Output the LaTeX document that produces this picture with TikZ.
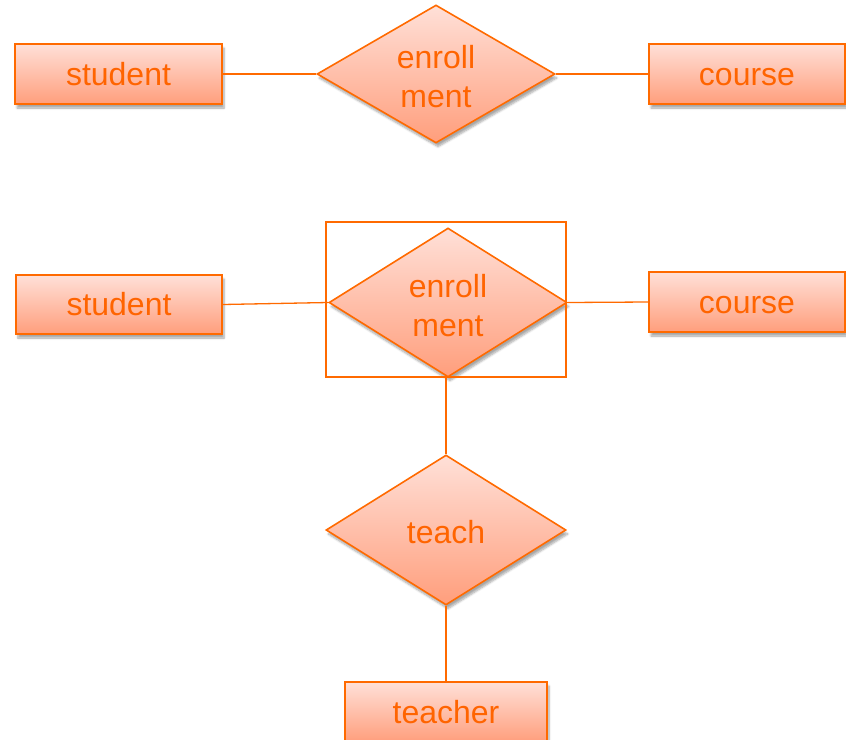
\documentclass[tikz,border=0pt]{standalone}
\usepackage{fontspec}
\setmainfont{Liberation Sans}
\usetikzlibrary{shapes.geometric,shadows.blur}
\definecolor{erline}{RGB}{255,106,0}
\definecolor{ertext}{RGB}{255,100,0}
\definecolor{ertop}{RGB}{255,224,216}
\definecolor{erbot}{RGB}{255,158,124}
\tikzset{
  erbase/.style={draw=erline, line width=1.6pt, top color=ertop, bottom color=erbot,
    text=ertext, font=\fontsize{32}{39}\selectfont, align=center, inner sep=0pt,
    blur shadow={shadow xshift=2pt, shadow yshift=-4pt, shadow blur steps=6, shadow opacity=35}},
  entity/.style={erbase, rectangle, minimum height=60pt, text height=26pt, text depth=4pt},
  relation/.style={erbase, diamond},
  % diamond with its caption set a little below the centre
  relcap/.style={text=ertext, font=\fontsize{32}{39}\selectfont, align=center, inner sep=0pt},
  link/.style={draw=erline, line width=1.3pt},
  aggbox/.style={draw=erline, line width=1.3pt, rectangle, inner sep=0pt}
}
\begin{document}
\begin{tikzpicture}[x=1pt,y=-1pt]
\useasboundingbox (0,0) rectangle (846,739);

% first diagram: binary relationship
\node[entity, minimum width=207pt] (stuA) at (118.5,74) {student};
\node[relation, minimum width=238pt, minimum height=138pt] (enrA) at (436,74) {};
\node[relcap] (enrAcap) at ([yshift=-3pt]enrA.center) {enroll\\ment};
\node[entity, minimum width=196pt] (crsA) at (747,74) {course};
\draw[link] (stuA.east) -- (enrA.west);
\draw[link] (enrA.east) -- (crsA.west);

% second diagram: aggregation used by teach
\node[entity, minimum width=206pt, minimum height=59pt] (stuB) at (119,304.5) {student};
\node[relation, minimum width=238pt, minimum height=149pt] (enrB) at (448,302.5) {};
\node[relcap] (enrBcap) at ([yshift=-3pt]enrB.center) {enroll\\ment};
\node[aggbox, minimum width=240pt, minimum height=155pt] (agg) at (446,299.5) {};
\node[entity, minimum width=196pt] (crsB) at (747,302) {course};
\node[relation, minimum width=240pt, minimum height=150pt] (teach) at (446,530) {};
\node[relcap] (teachcap) at ([yshift=-2pt]teach.center) {teach};
\node[entity, minimum width=202pt] (tchr) at (446,712) {teacher};

\draw[link] (stuB.east) -- (enrB.west);
\draw[link] (enrB.east) -- (crsB.west);
\draw[link] (agg.south) -- (teach.north);
\draw[link] (teach.south) -- (tchr.north);
\end{tikzpicture}
\end{document}
